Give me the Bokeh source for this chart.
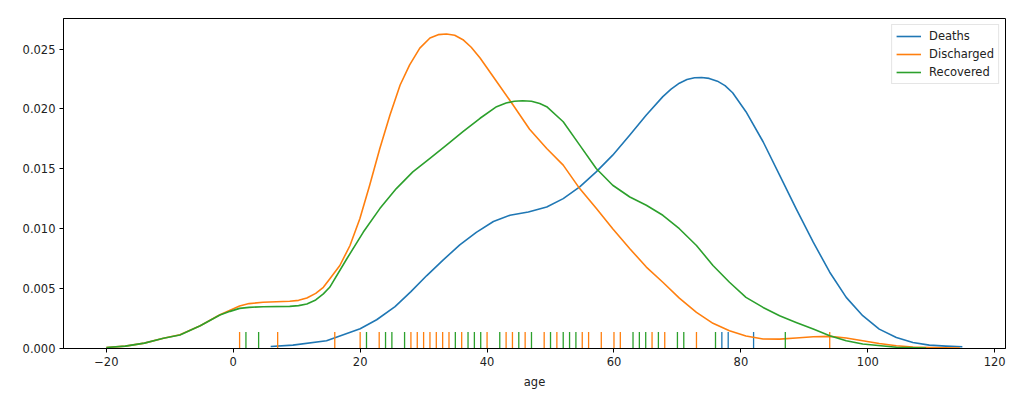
from bokeh.plotting import figure
from bokeh.models import FixedTicker, PrintfTickFormatter, Range1d, Legend, LegendItem
from bokeh.embed import file_html
from bokeh.resources import INLINE

# ---- data ----
deaths_x = [5.9, 9.4, 14.7, 20.0, 22.6, 25.5, 28.0, 30.5, 33.1, 35.7, 38.3, 41.0, 43.6, 46.5,
            49.4, 52.0, 54.6, 57.2, 59.8, 62.5, 65.1, 67.7, 69.0, 70.3, 71.5, 72.7, 73.8, 75.0,
            76.3, 77.5, 78.7, 80.8, 83.5, 86.1, 88.7, 91.4, 94.0, 96.6, 99.2, 101.8, 104.5,
            107.1, 109.7, 112.3, 114.9]
deaths_y = [0.00017, 0.00028, 0.00065, 0.00165, 0.00240, 0.00350, 0.00475, 0.00609, 0.00740,
            0.00865, 0.00970, 0.01060, 0.01112, 0.01140, 0.01181, 0.01251, 0.01349, 0.01475,
            0.01614, 0.01782, 0.01950, 0.02103, 0.02165, 0.02215, 0.02245, 0.02260, 0.02262,
            0.02255, 0.02232, 0.02195, 0.02135, 0.01977, 0.01726, 0.01447, 0.01168, 0.00888,
            0.00637, 0.00427, 0.00274, 0.00162, 0.00092, 0.00050, 0.00028, 0.00020, 0.00015]

discharged_x = [-20, -17, -14, -11, -8.4, -5.2, -2.1, -0.5, 1.0, 2.5, 4.7, 8.9, 10.3, 11.6,
                13.0, 14.2, 15.2, 16.8, 18.4, 19.95, 21.5, 23.1, 24.7, 26.3, 27.8, 29.4, 31.0,
                32.3, 33.6, 34.9, 36.2, 37.5, 38.9, 41.5, 44.1, 46.7, 49.4, 52.0, 54.6, 57.2,
                59.8, 62.5, 65.1, 67.7, 70.3, 73.0, 75.6, 78.2, 80.8, 83.5, 86.1, 88.7, 91.4,
                94.0, 96.6, 99.2, 101.8, 104.5, 107.1, 109.7, 114.5]
discharged_y = [0.00008, 0.00020, 0.00045, 0.00085, 0.00115, 0.00190, 0.00282, 0.00320,
                0.00355, 0.00375, 0.00386, 0.00394, 0.00402, 0.00422, 0.00460, 0.00511,
                0.00581, 0.00693, 0.00860, 0.01084, 0.01363, 0.01670, 0.01950, 0.02200,
                0.02368, 0.02508, 0.02592, 0.02620, 0.02626, 0.02615, 0.02578, 0.02515,
                0.02425, 0.02229, 0.02033, 0.01830, 0.01670, 0.01531, 0.01335, 0.01170,
                0.01000, 0.00833, 0.00680, 0.00553, 0.00420, 0.00302, 0.00210, 0.00148,
                0.00105, 0.00079, 0.00078, 0.00088, 0.00098, 0.00101, 0.00088, 0.00065,
                0.00042, 0.00023, 0.00013, 0.00008, 0.00004]

recovered_x = [-20, -17, -14, -11, -8.4, -5.2, -2.1, -0.5, 1.0, 2.5, 4.7, 8.9, 10.3, 11.6,
               13.0, 14.2, 15.2, 17.9, 20.5, 23.1, 25.7, 28.3, 31.0, 33.6, 36.2, 38.9, 41.5,
               43.0, 44.3, 45.6, 47.0, 48.3, 49.4, 52.0, 54.6, 57.2, 59.8, 62.5, 65.1, 67.7,
               70.3, 73.0, 75.6, 78.2, 80.8, 83.5, 86.1, 88.7, 91.4, 94.0, 96.6, 99.2, 104.5,
               109.2]
recovered_y = [0.00008, 0.00020, 0.00045, 0.00085, 0.00112, 0.00190, 0.00280, 0.00310,
               0.00335, 0.00343, 0.00349, 0.00352, 0.00358, 0.00372, 0.00405, 0.00456,
               0.00511, 0.00749, 0.00972, 0.01168, 0.01335, 0.01475, 0.01587, 0.01698,
               0.01810, 0.01922, 0.02019, 0.02050, 0.02064, 0.02068, 0.02064, 0.02045,
               0.02019, 0.01893, 0.01698, 0.01503, 0.01363, 0.01265, 0.01196, 0.01112,
               0.01000, 0.00860, 0.00693, 0.00553, 0.00427, 0.00343, 0.00274, 0.00218,
               0.00162, 0.00106, 0.00065, 0.00037, 0.00010, 0.00003]

deaths_rug = [77, 78, 82]
discharged_rug = [1, 7, 16, 20, 23, 28, 29, 30, 31, 32, 33, 34, 36, 40, 43, 44, 46, 49, 51,
                  55, 56, 58, 60, 61, 66, 68, 73, 94]
recovered_rug = [2, 4, 21, 24, 25, 27, 35, 37, 38, 39, 42, 45, 47, 50, 52, 53, 54, 63, 64,
                 65, 67, 70, 71, 76, 87]

series_names = ["Deaths", "Discharged", "Recovered"]
colors = ["#1f77b4", "#ff7f0e", "#2ca02c"]
x_ticks = [-20, 0, 20, 40, 60, 80, 100, 120]
y_ticks = [0.0, 0.005, 0.010, 0.015, 0.020, 0.025]

Y_TOP = 0.02755
RUG_H = 0.05 * Y_TOP
FONT = "DejaVu Sans"

p = figure(frame_width=942, frame_height=330,
           x_range=Range1d(-26.75, 121.7), y_range=Range1d(0, Y_TOP),
           output_backend="svg", toolbar_location=None,
           min_border_left=63, min_border_top=18, min_border_right=10, min_border_bottom=10)
p.xgrid.visible = False
p.ygrid.visible = False
p.outline_line_color = "black"
p.outline_line_width = 1
p.background_fill_color = "white"

for ax in (p.xaxis[0], p.yaxis[0]):
    ax.minor_tick_line_color = None
    ax.major_tick_in = 0
    ax.major_tick_out = 4
    ax.axis_line_color = "black"
    ax.major_tick_line_color = "black"
    ax.major_label_text_font = FONT
    ax.major_label_text_font_size = "11.5px"
    ax.major_label_text_color = "#222222"
    ax.major_label_standoff = 4

p.xaxis.ticker = FixedTicker(ticks=x_ticks)
p.xaxis.major_label_overrides = {-20: "\u221220"}
p.yaxis.ticker = FixedTicker(ticks=y_ticks)
p.yaxis.formatter = PrintfTickFormatter(format="%.3f")
p.xaxis.axis_label = "age"
p.xaxis.axis_label_text_font = FONT
p.xaxis.axis_label_text_font_size = "11.5px"
p.xaxis.axis_label_text_font_style = "normal"
p.xaxis.axis_label_text_color = "#222222"
p.xaxis.axis_label_standoff = 6

curves = [(deaths_x, deaths_y, deaths_rug), (discharged_x, discharged_y, discharged_rug),
          (recovered_x, recovered_y, recovered_rug)]
items = []
for (xs, ys, rug), name, c in zip(curves, series_names, colors):
    r = p.line(xs, ys, line_color=c, line_width=1.6, line_join="round")
    p.segment(x0=rug, y0=[0] * len(rug), x1=rug, y1=[RUG_H] * len(rug),
              line_color=c, line_width=1.3)
    items.append(LegendItem(label=name, renderers=[r]))

legend = Legend(items=items, location="top_right")
legend.label_text_font = FONT
legend.label_text_font_size = "11.5px"
legend.label_text_color = "#222222"
legend.border_line_color = "#cccccc"
legend.border_line_width = 1
legend.background_fill_alpha = 0.8
legend.margin = 6
legend.padding = 4
legend.spacing = 4
legend.label_height = 14
legend.glyph_height = 14
legend.glyph_width = 25
legend.label_standoff = 8
legend.label_width = 10
p.add_layout(legend)

open("out.html", "w").write(file_html(p, INLINE))
